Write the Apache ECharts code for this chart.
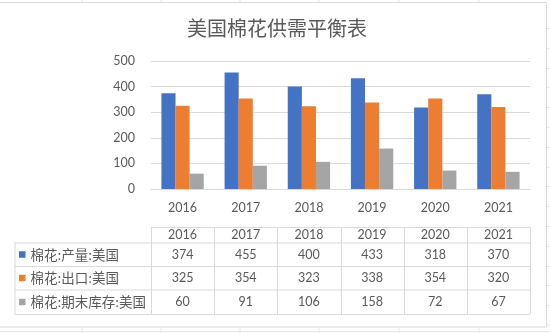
<!DOCTYPE html>
<html>
<head>
<meta charset="utf-8">
<script src="https://cdn.jsdelivr.net/npm/echarts@6/dist/echarts.min.js"></script>
<style>
  html, body { margin: 0; padding: 0; background: #ffffff; }
  #chart { width: 550px; height: 333px; }
</style>
</head>
<body>
<div id="chart"></div>
<script>
// US cotton supply & demand balance
const years = ['2016', '2017', '2018', '2019', '2020', '2021'];
const seriesNames = ['棉花:产量:美国', '棉花:出口:美国', '棉花:期末库存:美国'];
const production = [374, 455, 400, 433, 318, 370];
const exportsUS = [325, 354, 323, 338, 354, 320];
const endingStock = [60, 91, 106, 158, 72, 67];
const yTicks = [0, 100, 200, 300, 400, 500];

const colors = ['#4472C4', '#ED7D31', '#A5A5A5'];
const textColor = '#595959';
const lineColor = '#D9D9D9';
const numFont = 'Lato, "Liberation Sans", sans-serif';
const cjkFont = '"Noto Sans CJK SC", sans-serif';

const chart = echarts.init(document.getElementById('chart'), null, { renderer: 'canvas' });

const seriesValues = [production, exportsUS, endingStock];

chart.setOption({
  animation: false,
  backgroundColor: '#ffffff',
  title: {
    text: '美国棉花供需平衡表',
    left: 272,
    textAlign: 'center',
    top: 13,
    textStyle: { fontFamily: cjkFont, fontSize: 20, fontWeight: 'normal', color: textColor }
  },
  grid: { left: 151, right: 20, top: 61, bottom: 144, containLabel: false },
  xAxis: {
    type: 'category',
    data: years,
    axisLine: { lineStyle: { color: lineColor, width: 1 } },
    axisTick: { show: false },
    axisLabel: { color: textColor, fontFamily: numFont, fontSize: 12.5, margin: 12 }
  },
  yAxis: {
    type: 'value',
    min: yTicks[0],
    max: yTicks[yTicks.length - 1],
    interval: 100,
    axisLine: { show: false },
    axisTick: { show: false },
    axisLabel: { color: textColor, fontFamily: numFont, fontSize: 12.5, margin: 16 },
    splitLine: { lineStyle: { color: lineColor, width: 1 } }
  },
  series: seriesNames.map((name, i) => ({
    name,
    type: 'bar',
    data: seriesValues[i],
    itemStyle: { color: colors[i] },
    barGap: '0%',
    barCategoryGap: '33%'
  }))
});

// Data table under the plot, aligned with the category axis
function buildTable() {
  const g = [];
  const c0 = chart.convertToPixel({ xAxisIndex: 0 }, 0);
  const c1 = chart.convertToPixel({ xAxisIndex: 0 }, 1);
  const step = c1 - c0;
  const colLeft = c0 - step / 2;
  const colRight = colLeft + step * years.length;
  const legendLeft = 14.5;
  const rowY = [227, 242.5, 266, 289.5, 314];

  const line = (x1, y1, x2, y2, color, z) => g.push({
    type: 'line', silent: true, z: z || 10,
    shape: { x1, y1, x2, y2 },
    style: { stroke: color || lineColor, lineWidth: 1 }
  });
  const text = (x, y, str, opts) => g.push(Object.assign({
    type: 'text', silent: true, z: 11, x, y,
    style: Object.assign({ text: str, fill: textColor, align: 'center', verticalAlign: 'middle',
      fontFamily: numFont, fontSize: 12.5 }, opts || {})
  }));

  // spreadsheet gridlines around the chart object
  const sheet = '#E6E6E6';
  [82, 161, 240, 319, 399, 479].forEach(x => { line(x, 0, x, 2, sheet, 1); line(x, 327, x, 333, sheet, 1); });
  for (let y = 28; y < 333; y += 19.8) line(547, Math.round(y) + 0.5, 550, Math.round(y) + 0.5, sheet, 1);
  line(0, 331.5, 550, 331.5, sheet, 1);
  // chart object border
  g.push({ type: 'rect', silent: true, z: 2, shape: { x: -1.5, y: 2.5, width: 548, height: 324.5 },
    style: { fill: null, stroke: lineColor, lineWidth: 1 } });

  // horizontal rules
  line(colLeft, rowY[0] + 0.5, colRight, rowY[0] + 0.5);
  for (let r = 1; r < rowY.length; r++) line(legendLeft, rowY[r] + 0.5, colRight, rowY[r] + 0.5);
  // vertical rules
  line(legendLeft + 0.5, rowY[1], legendLeft + 0.5, rowY[4]);
  for (let i = 0; i <= years.length; i++) {
    const x = Math.round(colLeft + step * i) + 0.5;
    line(x, rowY[0], x, rowY[4]);
  }
  // header row
  years.forEach((yr, i) => text(colLeft + step * (i + 0.5), (rowY[0] + rowY[1]) / 2 + 0.5, yr));
  // series rows
  seriesNames.forEach((name, r) => {
    const cy = (rowY[r + 1] + rowY[r + 2]) / 2 + 0.5;
    g.push({ type: 'rect', silent: true, z: 11, shape: { x: 19, y: cy - 3.5, width: 6.5, height: 6.5 },
      style: { fill: colors[r] } });
    text(30.5, cy, name, { align: 'left', fontFamily: cjkFont, fontSize: 13.5 });
    seriesValues[r].forEach((v, i) => text(colLeft + step * (i + 0.5), cy, String(v)));
  });
  chart.setOption({ graphic: { elements: g } });
}
buildTable();
</script>
</body>
</html>
